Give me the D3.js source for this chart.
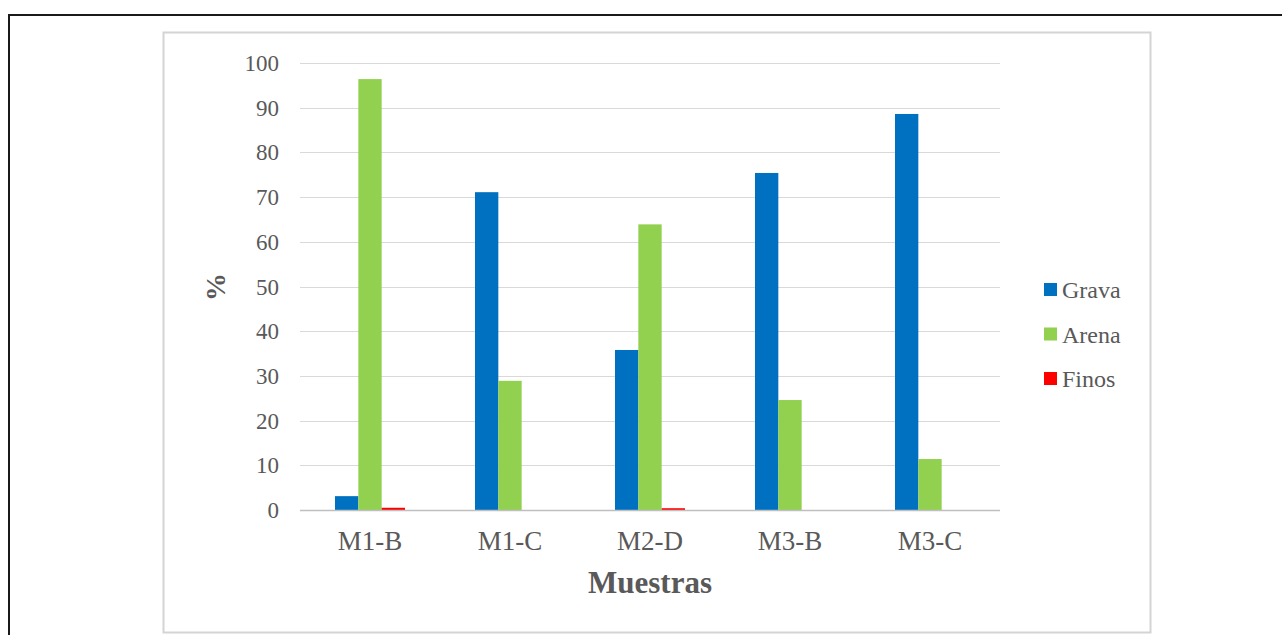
<!DOCTYPE html>
<html>
<head>
<meta charset="utf-8">
<script src="https://cdn.jsdelivr.net/npm/d3@7"></script>
<style>
  body { margin: 0; background: #fff; }
  svg { display: block; }
</style>
</head>
<body>
<svg width="1282" height="635"></svg>
<script>
// Samples on the x axis
const muestras = ['M1-B', 'M1-C', 'M2-D', 'M3-B', 'M3-C'];

// Percentages (one array per fraction)
const grava = [3.1, 71.1, 35.8, 75.4, 88.6];
const arena = [96.4, 28.9, 63.9, 24.6, 11.4];
const finos = [0.5, 0, 0.4, 0, 0];

const seriesNames = ['Grava', 'Arena', 'Finos'];
const seriesColors = ['#0070C0', '#92D050', '#FF0000'];
const yTicks = [0, 10, 20, 30, 40, 50, 60, 70, 80, 90, 100];

const seriesValues = [grava, arena, finos];
const rows = muestras.map((m, i) => ({
  muestra: m,
  values: seriesNames.map((s, j) => ({ serie: s, value: seriesValues[j][i] })),
}));

const svg = d3.select('svg');
const serif = '"Liberation Serif", "Times New Roman", serif';

// outer document frame (only top and left edges show)
svg.append('path')
  .attr('d', 'M9,635 V15 H1282')
  .attr('fill', 'none')
  .attr('stroke', '#1a1a1a')
  .attr('stroke-width', 2);

// chart area box
svg.append('rect')
  .attr('x', 163.5).attr('y', 32.5)
  .attr('width', 987).attr('height', 600)
  .attr('fill', '#fff')
  .attr('stroke', '#d4d4d4')
  .attr('stroke-width', 2);

const x0 = d3.scaleBand()
  .domain(muestras)
  .range([300, 1000])
  .paddingInner(0.5)
  .paddingOuter(0.25);

const x1 = d3.scaleBand()
  .domain(seriesNames)
  .range([0, x0.bandwidth()]);

const y = d3.scaleLinear()
  .domain([0, 100])
  .range([510, 63]);

// gridlines
svg.append('g')
  .selectAll('line')
  .data(yTicks.filter((t) => t > 0))
  .join('line')
    .attr('x1', 300).attr('x2', 1000)
    .attr('y1', (d) => Math.round(y(d)) + 0.5)
    .attr('y2', (d) => Math.round(y(d)) + 0.5)
    .attr('stroke', '#d9d9d9')
    .attr('stroke-width', 1.2);

// y tick labels
svg.append('g')
  .selectAll('text')
  .data(yTicks)
  .join('text')
    .attr('x', 279)
    .attr('y', (d) => y(d))
    .attr('dy', '0.35em')
    .attr('text-anchor', 'end')
    .attr('fill', '#595959')
    .attr('font-family', serif)
    .attr('font-size', 23)
    .text((d) => d);

// bars
svg.append('g')
  .selectAll('g')
  .data(rows)
  .join('g')
    .attr('transform', (d) => `translate(${x0(d.muestra)},0)`)
  .selectAll('rect')
  .data((d) => d.values)
  .join('rect')
    .attr('x', (d) => x1(d.serie))
    .attr('y', (d) => y(d.value))
    .attr('width', x1.bandwidth())
    .attr('height', (d) => y(0) - y(d.value))
    .attr('fill', (d, i) => seriesColors[i]);

// category axis baseline + labels
svg.append('line')
  .attr('x1', 300).attr('x2', 1000)
  .attr('y1', 510.5).attr('y2', 510.5)
  .attr('stroke', '#bfbfbf')
  .attr('stroke-width', 1.5);

svg.append('g')
  .selectAll('text')
  .data(muestras)
  .join('text')
    .attr('x', (d) => x0(d) + x0.bandwidth() / 2)
    .attr('y', 550)
    .attr('text-anchor', 'middle')
    .attr('fill', '#595959')
    .attr('font-family', serif)
    .attr('font-size', 27)
    .text((d) => d);

// axis titles
svg.append('text')
  .attr('x', 650).attr('y', 593)
  .attr('text-anchor', 'middle')
  .attr('fill', '#595959')
  .attr('font-family', serif)
  .attr('font-size', 31)
  .attr('font-weight', 'bold')
  .text('Muestras');

svg.append('text')
  .attr('transform', 'translate(225,287) rotate(-90)')
  .attr('text-anchor', 'middle')
  .attr('fill', '#595959')
  .attr('font-family', serif)
  .attr('font-size', 28)
  .attr('font-weight', 'bold')
  .text('%');

// legend
const legend = svg.append('g')
  .selectAll('g')
  .data(seriesNames)
  .join('g')
    .attr('transform', (d, i) => `translate(1044,${290 + i * 44.5})`);

legend.append('rect')
  .attr('x', 0).attr('y', -7)
  .attr('width', 13).attr('height', 13)
  .attr('fill', (d, i) => seriesColors[i]);

legend.append('text')
  .attr('x', 18)
  .attr('dy', '0.35em')
  .attr('fill', '#595959')
  .attr('font-family', serif)
  .attr('font-size', 24)
  .text((d) => d);
</script>
</body>
</html>
